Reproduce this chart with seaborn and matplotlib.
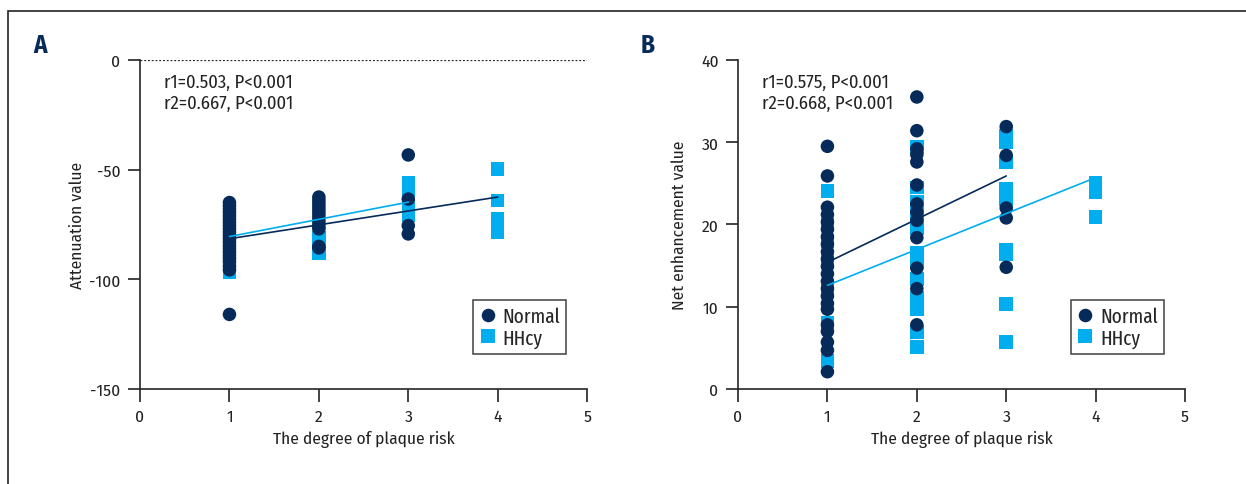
import pandas as pd
import matplotlib.pyplot as plt
import seaborn as sns
from matplotlib import font_manager
from matplotlib.patches import Rectangle

# ---- data ----
groups = ["Normal", "HHcy"]
colors = {"Normal": "#062a5a", "HHcy": "#00aeef"}

# Panel A: attenuation value
a_normal_x = [1] * 22 + [2] * 13 + [3] * 4
a_normal_y = [-65, -66.5, -68, -69.5, -71, -72.5, -74, -75.5, -77, -78.5, -80,
              -81.5, -83, -84.5, -86, -87.5, -89, -90.5, -92, -94, -95.7, -116,
              -62.5, -64, -65.5, -67, -68.5, -70, -71.5, -73, -74.5, -76, -77, -85.7, -85,
              -43.3, -63.4, -75.5, -79.3]
a_hhcy_x = [1] * 4 + [2] * 3 + [3] * 6 + [4] * 5
a_hhcy_y = [-96.7, -88, -80, -72,
            -81, -84.5, -88.3,
            -56, -59, -62, -65, -68, -70.8,
            -49.8, -64, -72.2, -75.5, -78.7]
a_line_normal_x = [1, 4]
a_line_normal_y = [-81.5, -62.5]
a_line_hhcy_x = [1, 3]
a_line_hhcy_y = [-80.5, -64.8]

# Panel B: net enhancement value
b_normal_x = [1] * 22 + [2] * 13 + [3] * 5
b_normal_y = [29.5, 25.9, 22.1, 21.2, 20.3, 19.4, 18.5, 17.6, 16.7, 15.8, 14.9,
              14.0, 13.1, 12.2, 11.3, 10.4, 9.7, 7.8, 7.0, 5.7, 4.7, 2.1,
              35.5, 31.4, 29.2, 28.5, 27.6, 24.8, 22.5, 21.5, 20.5, 18.4, 14.7, 12.2, 7.8,
              31.9, 28.4, 22.0, 20.8, 14.8]
b_hhcy_x = [1] * 7 + [2] * 13 + [3] * 9 + [4] * 3
b_hhcy_y = [24.1, 20.0, 18.0, 15.6, 12.0, 8.1, 3.4,
            29.4, 24.5, 22.7, 21.1, 19.5, 16.6, 15.4, 13.4, 11.1, 10.3, 9.7, 6.9, 5.1,
            30.8, 30.0, 27.6, 24.3, 23.1, 16.9, 16.4, 10.3, 5.7,
            25.1, 23.9, 20.9]
b_line_normal_x = [1, 3]
b_line_normal_y = [15.4, 25.9]
b_line_hhcy_x = [1, 4]
b_line_hhcy_y = [12.6, 25.7]

x_ticks = [0, 1, 2, 3, 4, 5]
a_yticks = [-150, -100, -50, 0]
b_yticks = [0, 10, 20, 30, 40]
a_stats = "r1=0.503, P<0.001\nr2=0.667, P<0.001"
b_stats = "r1=0.575, P<0.001\nr2=0.668, P<0.001"


def frame(nx, ny, hx, hy):
    # HHcy first so the Normal circles sit on top
    hh = pd.DataFrame({"degree": hx, "value": hy, "group": "HHcy"})
    nn = pd.DataFrame({"degree": nx, "value": ny, "group": "Normal"})
    return pd.concat([hh, nn], ignore_index=True)


# narrow fonts close to the journal's condensed sans
available = {f.name for f in font_manager.fontManager.ttflist}
font = next((f for f in ["Fira Sans Condensed", "PT Sans Narrow", "Roboto Condensed",
                         "IBM Plex Sans Condensed", "Liberation Sans Narrow"]
             if f in available), "DejaVu Sans")
legend_font = next((f for f in ["Fira Sans Extra Condensed", "Fira Sans Condensed"]
                    if f in available), font)

sns.set_style("ticks")
plt.rcParams["font.family"] = [font, "DejaVu Sans"]
plt.rcParams["axes.linewidth"] = 1.2
plt.rcParams["axes.unicode_minus"] = False

fig = plt.figure(figsize=(12.46, 4.85), dpi=100)
ax_a = fig.add_axes([0.1124, 0.1959, 0.3588, 0.6784])
ax_b = fig.add_axes([0.5923, 0.1959, 0.3588, 0.6784])

panels = [
    (ax_a, frame(a_normal_x, a_normal_y, a_hhcy_x, a_hhcy_y),
     frame(a_line_normal_x, a_line_normal_y, a_line_hhcy_x, a_line_hhcy_y),
     (-150, 0), a_yticks, "Attenuation value", a_stats, "A", 0.0802, 3),
    (ax_b, frame(b_normal_x, b_normal_y, b_hhcy_x, b_hhcy_y),
     frame(b_line_normal_x, b_line_normal_y, b_line_hhcy_x, b_line_hhcy_y),
     (0, 40), b_yticks, "Net enhancement value", b_stats, "B", 0.0722, 10),
]

for ax, pts, lns, ylim, yticks, ylabel, stats, letter, dx, ypad in panels:
    sns.scatterplot(data=pts, x="degree", y="value", hue="group", style="group",
                    hue_order=groups, style_order=groups, palette=colors,
                    markers={"Normal": "o", "HHcy": "s"}, s=95, linewidth=0,
                    ax=ax, zorder=3, clip_on=False)
    sns.lineplot(data=lns, x="degree", y="value", hue="group", hue_order=groups,
                 palette=colors, linewidth=1.2, legend=False, ax=ax, zorder=4)
    if ylim[1] == 0:
        ax.axhline(0, color="#222222", linestyle=(0, (1.5, 1.5)), linewidth=0.9)
    ax.set_xlim(0, 5)
    ax.set_ylim(*ylim)
    ax.set_xticks(x_ticks)
    ax.set_yticks(yticks)
    ax.tick_params(length=9, width=1.2, labelsize=12.5, colors="#222222", pad=5)
    sns.despine(ax=ax)
    ax.set_xlabel("The degree of plaque risk", fontsize=12.5, color="#222222", labelpad=4)
    ax.set_ylabel(ylabel, fontsize=12.5, color="#222222", labelpad=ypad)
    ax.text(0.054, 0.96, stats, transform=ax.transAxes, fontsize=13.4,
            va="top", ha="left", color="#222222", linespacing=1.22)
    leg = ax.legend(loc="lower right", bbox_to_anchor=(0.953, 0.106),
                    prop={"family": legend_font, "size": 15},
                    frameon=True, fancybox=False, handletextpad=0.3,
                    borderpad=0.3, handlelength=0.8, labelspacing=0.1,
                    borderaxespad=0, markerscale=1.0)
    leg.get_frame().set_edgecolor("#222222")
    leg.get_frame().set_linewidth(1.2)
    fig.text(ax.get_position().x0 - dx, 0.905, letter, fontsize=18,
             fontweight="bold", color="#062a5a", va="center", ha="center")

fig.add_artist(Rectangle((0.0064, -0.05), 1.1, 1.0253, transform=fig.transFigure,
                         fill=False, linewidth=1.2, edgecolor="#222222"))

plt.savefig("out.png", dpi=100)
